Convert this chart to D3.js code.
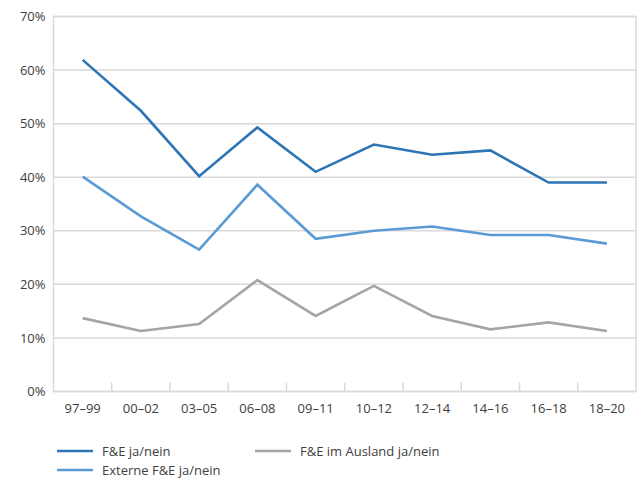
<!DOCTYPE html>
<html>
<head>
<meta charset="utf-8">
<script src="https://cdn.jsdelivr.net/npm/d3@7"></script>
<style>
  body { margin: 0; background: #fff; }
  text { font-family: "Open Sans", "Noto Sans", sans-serif; fill: #404040; }
</style>
</head>
<body>
<svg id="chart" width="639" height="478"></svg>
<script>
const categories = ["97–99", "00–02", "03–05", "06–08", "09–11", "10–12", "12–14", "14–16", "16–18", "18–20"]
const feJaNein = [0.619, 0.524, 0.402, 0.493, 0.410, 0.461, 0.442, 0.450, 0.390, 0.390]
const externeFe = [0.401, 0.327, 0.265, 0.386, 0.285, 0.300, 0.308, 0.292, 0.292, 0.276]
const feAusland = [0.137, 0.113, 0.126, 0.208, 0.141, 0.197, 0.141, 0.116, 0.129, 0.113]
const yTicks = [0, 0.1, 0.2, 0.3, 0.4, 0.5, 0.6, 0.7]

const series = [
    { name: "F&E ja/nein", values: feJaNein, color: "#2E75B6" },
    { name: "Externe F&E ja/nein", values: externeFe, color: "#5B9BD5" },
    { name: "F&E im Ausland ja/nein", values: feAusland, color: "#A5A5A5" }
]

const svg = d3.select("#chart")
const margin = { top: 16.5, right: 3, bottom: 86.5, left: 53.5 }
const width = 639 - margin.left - margin.right
const height = 478 - margin.top - margin.bottom

const g = svg.append("g").attr("transform", `translate(${margin.left},${margin.top})`)

const x = d3.scaleBand().domain(categories).range([0, width])
const y = d3.scaleLinear().domain([0, 0.7]).range([height, 0])

// gridlines
g.append("g")
    .selectAll("line")
    .data(yTicks)
    .join("line")
    .attr("x1", 0).attr("x2", width)
    .attr("y1", d => y(d)).attr("y2", d => y(d))
    .attr("stroke", "#d9d9d9").attr("stroke-width", 1.5)

// frame
g.append("rect")
    .attr("x", 0).attr("y", 0)
    .attr("width", width).attr("height", height)
    .attr("fill", "none").attr("stroke", "#d9d9d9").attr("stroke-width", 1.5)

// y axis labels
const yAxis = g.append("g")
    .call(d3.axisLeft(y).tickValues(yTicks).tickFormat(d3.format(".0%")).tickSize(0).tickPadding(8))
yAxis.select(".domain").remove()
yAxis.selectAll("text").attr("font-size", 13).style("fill", "#404040")

// x axis: category labels + inner ticks between categories
const xAxis = g.append("g").attr("transform", `translate(0,${height})`)
    .call(d3.axisBottom(x).tickSize(0).tickPadding(12))
xAxis.select(".domain").remove()
xAxis.selectAll("text").attr("font-size", 13).style("fill", "#404040")

g.append("g")
    .selectAll("line")
    .data(categories.slice(1))
    .join("line")
    .attr("x1", d => x(d)).attr("x2", d => x(d))
    .attr("y1", height).attr("y2", height - 9)
    .attr("stroke", "#d9d9d9").attr("stroke-width", 1.5)

// lines
const line = d3.line()
    .x((d, i) => x(categories[i]) + x.bandwidth() / 2)
    .y(d => y(d))

g.selectAll(".series")
    .data(series.slice().reverse())
    .join("path")
    .attr("class", "series")
    .attr("d", d => line(d.values))
    .attr("fill", "none")
    .attr("stroke", d => d.color)
    .attr("stroke-width", 2.6)
    .attr("stroke-linejoin", "miter")

// legend
const legendPos = [
    { x: 57, y: 451 },
    { x: 57, y: 470 },
    { x: 255, y: 451 }
]
const legend = svg.append("g")
    .selectAll("g")
    .data(series)
    .join("g")
    .attr("transform", (d, i) => `translate(${legendPos[i].x},${legendPos[i].y})`)

legend.append("line")
    .attr("x1", 0).attr("x2", 36)
    .attr("stroke", d => d.color).attr("stroke-width", 2.6)

legend.append("text")
    .attr("x", 45).attr("dy", "0.35em")
    .attr("font-size", 13)
    .text(d => d.name)
</script>
</body>
</html>
